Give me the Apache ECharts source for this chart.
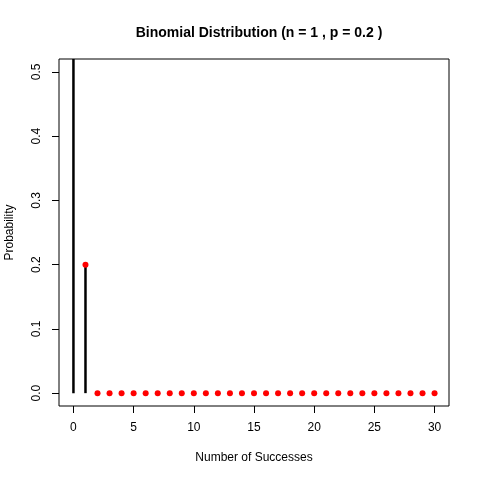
<!DOCTYPE html>
<html>
<head>
<meta charset="utf-8">
<script src="https://cdn.jsdelivr.net/npm/echarts@6.0.0/dist/echarts.min.js"></script>
<style>
    html, body { margin: 0; padding: 0; background: #fff; }
    #chart { width: 480px; height: 480px; }
</style>
</head>
<body>
<div id="chart"></div>
<script>
// binomial n = 1, p = 0.2, shown for 0..30 successes
var successes = [0, 1, 2, 3, 4, 5, 6, 7, 8, 9, 10, 11, 12, 13, 14, 15,
    16, 17, 18, 19, 20, 21, 22, 23, 24, 25, 26, 27, 28, 29, 30];
var probability = [0.8, 0.2, 0, 0, 0, 0, 0, 0, 0, 0, 0, 0, 0, 0, 0, 0,
    0, 0, 0, 0, 0, 0, 0, 0, 0, 0, 0, 0, 0, 0, 0];
var xTicks = [0, 5, 10, 15, 20, 25, 30];
var yTicks = [0, 0.1, 0.2, 0.3, 0.4, 0.5];

var points = successes.map(function (s, i) {
    return [s, probability[i]];
});

var chart = echarts.init(document.getElementById('chart'));
var font = 'Liberation Sans, Arial, sans-serif';

option = {
    animation: false,
    title: {
        text: 'Binomial Distribution (n = 1 , p = 0.2 )',
        left: 254,
        top: 21,
        textAlign: 'center',
        textStyle: {
            fontFamily: font,
            fontSize: 14,
            fontWeight: 'bold',
            color: '#000'
        }
    },
    grid: {
        left: 59,
        right: 31,
        top: 59,
        bottom: 74,
        outerBoundsMode: 'none',
        containLabel: false,
        show: true,
        borderColor: '#000',
        borderWidth: 1,
        backgroundColor: 'transparent'
    },
    xAxis: {
        type: 'value',
        min: -1.2,
        max: 31.2,
        name: 'Number of Successes',
        nameLocation: 'middle',
        nameGap: 46,
        nameTextStyle: { fontFamily: font, fontSize: 12, color: '#000' },
        axisLine: { show: false, onZero: false },
        splitLine: { show: false },
        axisTick: {
            show: true,
            length: 7,
            customValues: xTicks,
            lineStyle: { color: '#000', width: 1 }
        },
        axisLabel: {
            customValues: xTicks,
            margin: 16,
            fontFamily: font,
            fontSize: 12,
            color: '#000'
        }
    },
    yAxis: {
        type: 'value',
        min: -0.02,
        max: 0.52,
        name: 'Probability',
        nameLocation: 'middle',
        nameGap: 43,
        nameTextStyle: { fontFamily: font, fontSize: 12, color: '#000' },
        axisLine: { show: false, onZero: false },
        splitLine: { show: false },
        axisTick: {
            show: true,
            length: 7,
            customValues: yTicks,
            lineStyle: { color: '#000', width: 1 }
        },
        axisLabel: {
            customValues: yTicks,
            rotate: 90,
            margin: 16,
            fontFamily: font,
            fontSize: 12,
            color: '#000',
            formatter: function (v) { return v.toFixed(1); }
        }
    },
    series: [{
        // vertical "h" lines
        type: 'custom',
        clip: true,
        data: points,
        renderItem: function (params, api) {
            var top = api.coord([api.value(0), api.value(1)]);
            var base = api.coord([api.value(0), 0]);
            return {
                type: 'line',
                shape: { x1: base[0], y1: base[1], x2: top[0], y2: top[1] },
                style: { stroke: '#000', lineWidth: 2.5 }
            };
        },
        z: 2
    }, {
        type: 'scatter',
        clip: true,
        data: points,
        symbol: 'circle',
        symbolSize: 6,
        itemStyle: { color: '#ff0000', opacity: 1 },
        z: 3
    }]
};

chart.setOption(option);
</script>
</body>
</html>
